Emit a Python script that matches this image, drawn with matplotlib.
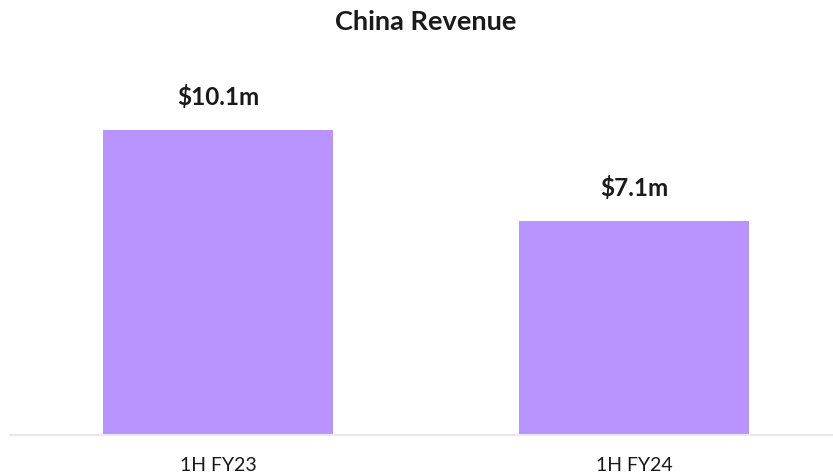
import matplotlib
matplotlib.use('Agg')
import matplotlib.pyplot as plt

# Datos
categories = ['1H FY23', '1H FY24']
revenue = [10.1, 7.1]
labels = ['$10.1m', '$7.1m']

plt.rcParams['font.family'] = ['Lato', 'DejaVu Sans']

fig = plt.figure(figsize=(8.33, 4.77), dpi=100)
ax = fig.add_axes([10 / 833, 41 / 477, 823 / 833, 436 / 477])

x = range(len(categories))
bars = ax.bar(x, revenue, width=0.553, color='#b794ff', zorder=2)

# Etiquetas de valores encima de las barras
for bar, lab in zip(bars, labels):
    ax.annotate(lab, (bar.get_x() + bar.get_width() / 2, bar.get_height()),
                xytext=(0, 16), textcoords='offset points',
                ha='center', va='bottom', fontsize=17.5, fontweight='bold', color='#1a1a1a')

ax.set_xlim(-0.5, 1.478)
ax.set_ylim(0, 14.45)
ax.set_xticks(list(x))
ax.set_xticklabels(categories, fontsize=14, color='#1a1a1a')
ax.tick_params(axis='x', length=0, pad=15)
ax.set_yticks([])

for s in ['top', 'right', 'left']:
    ax.spines[s].set_visible(False)
ax.spines['bottom'].set_color('#ebe6f7')
ax.spines['bottom'].set_linewidth(1.5)

fig.text(426 / 833, 1 - 22 / 477, 'China Revenue', ha='center', va='center',
         fontsize=19.5, fontweight='bold', color='#1a1a1a')

fig.savefig('out.png', dpi=100)
